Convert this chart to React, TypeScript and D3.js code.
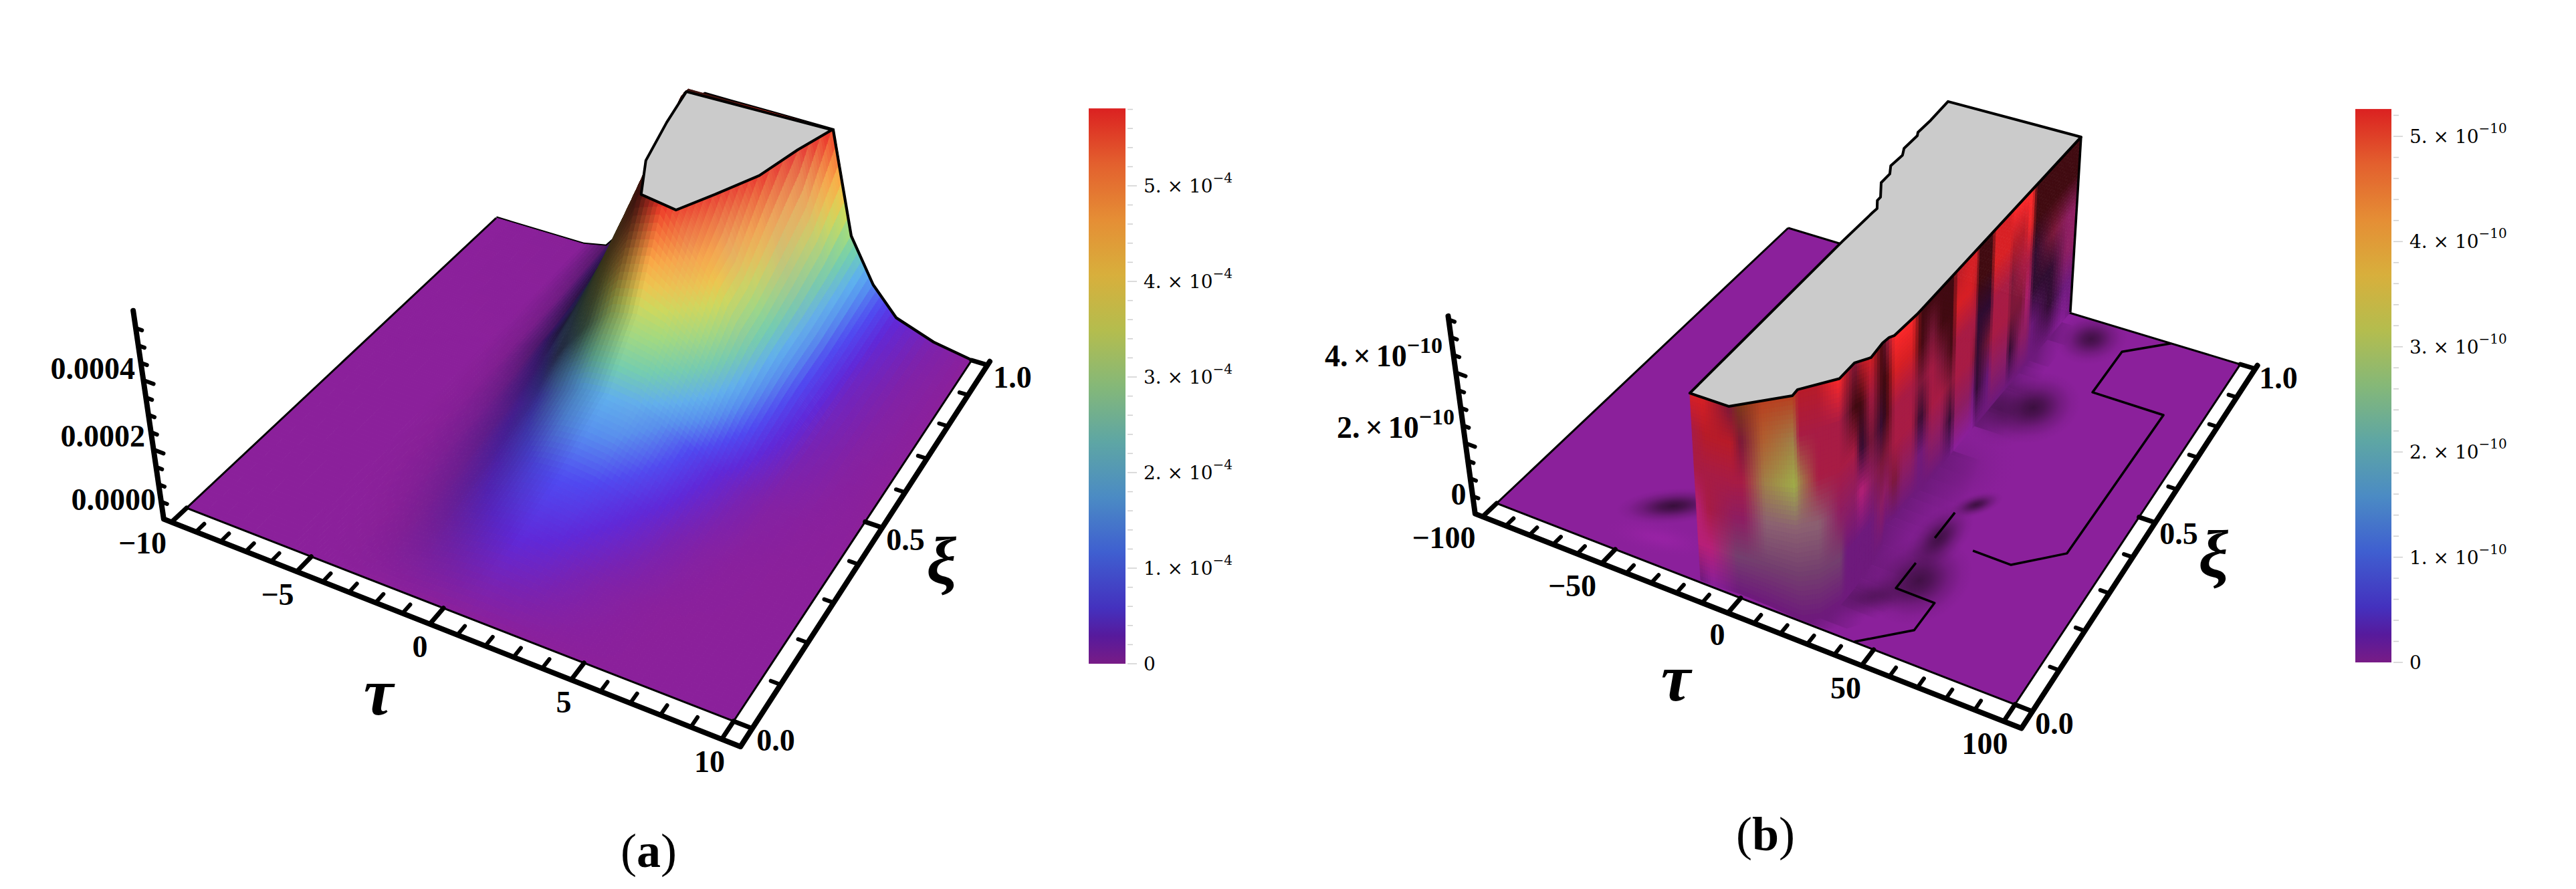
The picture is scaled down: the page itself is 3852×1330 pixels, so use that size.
import React, { useEffect, useRef } from 'react';
import * as d3 from 'd3';

type Pt = [number, number];

// ---- panel (a) values, z in units of 1e-4 ----
const tauNodesA = [-10, -6, -5, -4, -3, -2, -1, 0, 1, 2, 3, 4, 5, 6, 7, 8.5, 10];
const xiNodesA = [0, 0.15, 0.3, 0.45, 0.55, 0.64, 0.7, 0.8, 0.9, 1];
const zGridA = [
  [0, 0, 0, 0, 0, 0, 0, 0, 0, 0, 0, 0, 0, 0, 0, 0, 0],
  [0, 0, 0, 0, 0.06, 0.2, 0.38, 0.52, 0.58, 0.48, 0.3, 0.15, 0.06, 0.01, 0, 0, 0],
  [0, 0, 0, 0.05, 0.18, 0.46, 0.8, 1.02, 1.08, 1, 0.78, 0.52, 0.26, 0.1, 0.03, 0, 0],
  [0, 0, 0.01, 0.1, 0.35, 0.85, 1.4, 1.75, 1.85, 1.75, 1.45, 1.05, 0.62, 0.3, 0.1, 0.03, 0],
  [0, 0, 0.01, 0.15, 0.6, 1.4, 2.4, 3.1, 3.3, 3.1, 2.6, 2, 1.25, 0.6, 0.22, 0.06, 0],
  [0, 0, 0.02, 0.25, 1, 2.3, 4, 5.7, 6, 4.9, 4, 2.7, 1.6, 0.8, 0.3, 0.08, 0],
  [0, 0, 0.03, 0.3, 1.2, 2.8, 4.6, 6.6, 6.8, 5.9, 4.3, 2.9, 1.8, 0.9, 0.35, 0.1, 0],
  [0, 0, 0.05, 0.45, 1.7, 3.5, 5.6, 7.2, 7.8, 7.4, 5.8, 3.5, 2, 1, 0.4, 0.12, 0],
  [0, 0, 0.1, 0.7, 2.4, 4.3, 6.5, 8.2, 9.2, 9.2, 7.2, 4.2, 2.3, 1.2, 0.5, 0.15, 0],
  [0, 0, 0.15, 1, 3, 5.2, 8, 10, 11, 11, 9, 5.9, 2.7, 1.4, 0.6, 0.2, 0],
];
// greyish facets on the lit slope, same nodes as zGridA
const washGridA = [
  [0, 0, 0, 0, 0, 0, 0, 0, 0, 0, 0, 0, 0, 0, 0, 0, 0],
  [0, 0, 0, 0, 0, 0, 0, 0, 0, 0, 0, 0, 0, 0, 0, 0, 0],
  [0, 0, 0, 0, 0, 0, 0, 0, 0, 0, 0, 0, 0, 0, 0, 0, 0],
  [0, 0, 0, 0, 0, 0, 0, 0, 0.05, 0.08, 0.05, 0, 0, 0, 0, 0, 0],
  [0, 0, 0, 0, 0, 0, 0, 0, 0.08, 0.04, 0.1, 0.08, 0, 0, 0, 0, 0],
  [0, 0, 0, 0, 0, 0, 0, 0, 0.05, 0.2, 0.05, 0.15, 0.05, 0, 0, 0, 0],
  [0, 0, 0, 0, 0, 0, 0, 0, 0, 0.12, 0.28, 0.08, 0.05, 0, 0, 0, 0],
  [0, 0, 0, 0, 0, 0, 0, 0, 0, 0.05, 0.12, 0.38, 0.12, 0, 0, 0, 0],
  [0, 0, 0, 0, 0, 0, 0, 0, 0, 0, 0.1, 0.3, 0.1, 0, 0, 0, 0],
  [0, 0, 0, 0, 0, 0, 0, 0, 0, 0, 0, 0.05, 0, 0, 0, 0, 0],
];
const capTauA = [-1.65, -1.3, -0.78, 0.06, 1.5, 2.21, 3.01, 3.47, 3.97];
const capXiA = [0.99, 0.878, 0.748, 0.65, 0.637, 0.711, 0.801, 0.909, 0.999];

// ---- panel (b) values, z in units of 1e-10 ----
const capTauB = [-25.9, 29, 26.7, 25.6, 24.6, 24.1, 24.5, 21.2, 20.9, 12.1, 12.2, -2.5, -16.6, -15.4, -14.8, -14.6, -17, -17, -21.3, -21.3, -23.6, -23.2, -24.9, -24.7, -25.6, -25.4];
const capXiB = [0.995, 1.003, 0.366, 0.297, 0.288, 0.27, 0.227, 0.202, 0.155, 0.099, 0.082, 0.011, 0.009, 0.489, 0.592, 0.607, 0.63, 0.642, 0.684, 0.717, 0.742, 0.784, 0.806, 0.857, 0.868, 0.918];

const wallTopTau = [-16.6, -12.2, -2.5, -0.3, 4.9, 12.2, 12.1, 16.1, 20.9, 20.9, 21.2, 22.6, 24.5, 24.1, 24.6, 25.6, 25.6, 25.9, 26.7, 26.9, 27, 27.1, 27.2, 27.4, 27.5, 27.5, 27.7, 27.7, 27.9, 28, 28.1, 28.2, 28.3, 28.6, 28.8, 29];
const wallTopXi = [0.009, 0.01, 0.011, 0.023, 0.046, 0.082, 0.099, 0.125, 0.154, 0.176, 0.202, 0.212, 0.227, 0.27, 0.276, 0.297, 0.325, 0.357, 0.381, 0.42, 0.455, 0.496, 0.508, 0.565, 0.582, 0.59, 0.641, 0.652, 0.715, 0.724, 0.773, 0.8, 0.818, 0.897, 0.964, 1.003];
const wallBaseTau = [-16.3, -11.5, -1.7, 1.7, 10, 21.8, 23.5, 27.8, 30.5, 30.7, 30.7, 30.3, 30.1, 28.5, 24.6, 25.6, 25.6, 25.9, 26.7, 26.9, 27, 27.1, 27.2, 27.4, 27.5, 27.5, 27.7, 27.7, 27.9, 28, 28.1, 28.2, 28.3, 28.6, 28.8, 29];
const wallBaseXi = [0.005, 0.005, 0.008, 0.008, 0.007, 0.003, 0.004, 0.021, 0.064, 0.083, 0.11, 0.136, 0.173, 0.226, 0.276, 0.297, 0.325, 0.357, 0.381, 0.42, 0.455, 0.496, 0.508, 0.565, 0.582, 0.59, 0.641, 0.652, 0.715, 0.724, 0.773, 0.8, 0.818, 0.897, 0.964, 1.003];
// how far along tau the foot of the wall fades out on the floor
const wallSkirt = [0, 0, 0, 0, 2, 6, 8, 10, 14, 14, 16, 16, 16, 18, 20, 20, 20, 18, 18, 16, 14, 12, 12, 12, 12, 12, 10, 10, 10, 10, 10, 8, 8, 8, 6, 0];
// tone letters from the top of the wall down to its foot
const wallTones = [
  'RCCMMQ', 'RHCCMP', 'WHCVLQ', 'OWCVLQ', 'ANGTLQ', 'AGYTLQ', 'HCGTLQ', 'HCCTLQ', 'BCCVLQ', 'HWCVQQ', 'WDCVQQ', 'HDKMQQ', 'RCWVQQ', 'DDKWVQ',
  'WDDWVQ', 'BRCCWQ', 'BRCCVQ', 'BRCCVQ', 'DDWKQQ', 'DWCCVQ', 'DDWCVQ', 'DDDWKQ', 'HRCCVP', 'RRCCVP', 'RHCWQP', 'DDKKKQ', 'DDKWQQ', 'RRCCVQ', 'RRCCVQ', 'BHWWKQ', 'BHCWVQ', 'BBCMVQ', 'DDKKQQ', 'DDWKKQ', 'DDVVQP', 'DDVVQQ',
];
const toneKeys = ['R', 'B', 'H', 'C', 'M', 'V', 'P', 'Q', 'K', 'D', 'W', 'O', 'A', 'N', 'G', 'Y', 'T', 'L'];

// contour pieces lying on the floor of panel (b)
const floorLinesTau = [[42.8, 57.3, 57.3, 42.8, 42.9], [42.8, 42.9], [57.1, 71.5, 85.7, 86, 57.5, 57.2, 71.8]];
const floorLinesXi = [[0.001, 0.07, 0.142, 0.143, 0.213], [0.284, 0.359], [0.286, 0.285, 0.356, 0.785, 0.786, 0.93, 1]];

// dark hollows on the floor: centre and the two reach points
const spotTau = [-45, -40.2, 47.8, 38, 44.2, 47.5, 41.9, 43.4, 31.9, 31.5, 25.9];
const spotXi = [0.141, 0.059, 0.178, 0.106, 0.287, 0.395, 0.691, 0.94, 0.46, 0.656, 0.034];
const spotTauA = [-28.9, -21.4, 59.7, 51.6, 46.3, 54.2, 53.8, 53.5, 42.2, 33, 40.9];
const spotXiA = [0.199, 0.081, 0.256, 0.166, 0.382, 0.434, 0.769, 0.997, 0.585, 0.756, 0.109];
const spotTauB = [-39.4, -35.6, 59.4, 43.3, 53, 50.2, 53.5, 52.3, 50.6, 47.5, 32.7];
const spotXiB = [0.104, 0.024, 0.098, 0.066, 0.263, 0.368, 0.611, 0.875, 0.378, 0.611, -0.014];
const spotDepth = [0.9, 0.5, 0.8, 0.5, 0.8, 0.85, 0.85, 0.8, 0.55, 0.45, 0.7];
const spotKind = ['K', 'L', 'K', 'K', 'K', 'K', 'K', 'K', 'Q', 'K', 'Q'];

// ---- colour bar values ----
const barStops = [0, 0.05, 0.1, 0.2, 0.3, 0.4, 0.5, 0.6, 0.7, 0.8, 0.9, 1];
const barColors = ['#781c86', '#571a9c', '#4431be', '#3f5fd0', '#4b8bc4', '#5ea6a4', '#85b878', '#b4bd4e', '#d8af3c', '#e58e35', '#e3602e', '#db2121'];
const surfStops = [0, 0.04, 0.1, 0.17, 0.25, 0.31, 0.4, 0.5, 0.6, 0.68, 0.78, 0.9, 1];
const surfColors = ['#8b209b', '#7a22b0', '#6028d8', '#5048f0', '#5590f0', '#5cb0f0', '#70d0b0', '#a0dc80', '#d0dc58', '#f0c84a', '#ffa840', '#f86a30', '#f03020'];

const barTicksA = [0, 1, 2, 3, 4, 5];
const barTicksB = [0, 1, 2, 3, 4, 5];

const tauMajorA = [-10, -5, 0, 5, 10];
const tauMajorB = [-100, -50, 0, 50, 100];
const xiMajor = [0, 0.5, 1];
const zMajorA = [0, 2, 4];
const zMajorB = [0, 2, 4];

const FLOOR = '#8b209b';
const toneColor = d3.scaleOrdinal<string, string>().domain(toneKeys).range([
  '#d82024', '#ff2a2a', '#b81c28', '#a81c44', '#b82078', '#8e1e62', FLOOR, '#6e1a7c', '#2e0c30', '#400a10', '#7a1838', '#7a3a18', '#b84020', '#b06030', '#a08048', '#a0b048', '#8c6272', '#74406e',
]);

const UPAD_L = 0.016, UPAD = 0.03, VPAD = 0.04, VTOP = 0.012;

function makeFloor(c: Pt[]) {
  const [p0, p1, p2, p3] = c;
  const dx1 = p1[0] - p2[0], dx2 = p3[0] - p2[0], sx = p0[0] - p1[0] + p2[0] - p3[0];
  const dy1 = p1[1] - p2[1], dy2 = p3[1] - p2[1], sy = p0[1] - p1[1] + p2[1] - p3[1];
  const den = dx1 * dy2 - dx2 * dy1;
  const g = (sx * dy2 - dx2 * sy) / den, h = (dx1 * sy - sx * dy1) / den;
  const a = p1[0] - p0[0] + g * p1[0], b = p3[0] - p0[0] + h * p3[0];
  const d = p1[1] - p0[1] + g * p1[1], e = p3[1] - p0[1] + h * p3[1];
  return (u: number, v: number): Pt => {
    const w = g * u + h * v + 1;
    return [(a * u + b * v + p0[0]) / w, (d * u + e * v + p0[1]) / w];
  };
}

// floor homography plus a lift along the slightly converging verticals
function makeProjection(corners: Pt[], perZ: number, shrink: number, xc: number, lean: number) {
  const floor = makeFloor(corners);
  return (u: number, v: number, z: number): Pt => {
    const [x, y] = floor(u, v);
    const h = z * perZ * (1 - shrink * v);
    return [x + (x - xc) * lean * h, y - h];
  };
}

const poly = d3.line<Pt>();

function drawAxes(g: any, proj: any, tau: any, xi: any, zTop: number, tauMajor: number[], tauMinor: number[], zMajor: number[], zMinor: number[]) {
  const path = (pts: Pt[], w: number) =>
    g.append('path').attr('d', poly(pts)).attr('stroke', '#000').attr('fill', 'none').attr('stroke-width', w)
      .attr('stroke-linecap', 'round').attr('stroke-linejoin', 'round');
  path([proj(-UPAD_L, -VPAD, zTop), proj(-UPAD_L, -VPAD, 0), proj(1 + UPAD, -VPAD, 0), proj(1 + UPAD, 1 + VTOP, 0)], 8);
  tauMinor.forEach(t => path([proj(tau(t), -VPAD, 0), proj(tau(t), -VPAD + 0.022, 0)], 6));
  tauMajor.forEach(t => path([proj(tau(t), -VPAD, 0), proj(tau(t), -VPAD + 0.04, 0)], 7));
  d3.range(0, 11).forEach(i => {
    const x = i / 10;
    const major = xiMajor.includes(x);
    path([proj(1 + UPAD, xi(x), 0), proj(1 + UPAD - (major ? 0.03 : 0.016), xi(x), 0)], major ? 7 : 6);
  });
  zMinor.forEach(z => path([proj(-UPAD_L, -VPAD, z), proj(-UPAD_L + 0.012, -VPAD, z)], 6));
  zMajor.forEach(z => path([proj(-UPAD_L, -VPAD, z), proj(-UPAD_L + 0.02, -VPAD, z)], 6));
}

function label(g: any, txt: string, x: number, y: number, anchor = 'middle', size = 46) {
  return g.append('text').attr('x', x).attr('y', y).attr('text-anchor', anchor)
    .attr('font-family', 'Liberation Serif').attr('font-weight', 700).attr('font-size', size).text(txt);
}

function drawTitle(g: any, txt: string, x: number, y: number, size: number) {
  g.append('text').attr('x', x).attr('y', y).attr('text-anchor', 'middle').attr('font-family', 'Liberation Serif')
    .attr('font-weight', 700).attr('font-style', 'italic').attr('font-size', size).text(txt);
}

function drawCaption(g: any, letter: string, x: number, y: number) {
  const t = g.append('text').attr('x', x).attr('y', y).attr('text-anchor', 'middle')
    .attr('font-family', 'Liberation Serif').attr('font-size', 72);
  t.append('tspan').text('(');
  t.append('tspan').attr('font-weight', 700).text(letter);
  t.append('tspan').text(')');
}

function drawBar(g: any, id: string, x0: number, x1: number, y: any, zMax: number, ticks: number[], minorStep: number, exp: string, tx: number) {
  const grad = g.append('linearGradient').attr('id', id).attr('x1', 0).attr('x2', 0).attr('y1', 1).attr('y2', 0);
  barStops.forEach((s, i) => grad.append('stop').attr('offset', s).attr('stop-color', barColors[i]));
  g.append('rect').attr('x', x0).attr('y', y(zMax)).attr('width', x1 - x0).attr('height', y(0) - y(zMax)).attr('fill', `url(#${id})`);
  d3.range(0, zMax, minorStep).forEach(z => {
    const major = Math.abs(z - Math.round(z)) < 1e-6;
    g.append('line').attr('x1', x1 + 3).attr('x2', x1 + (major ? 17 : 11)).attr('y1', y(z)).attr('y2', y(z))
      .attr('stroke', '#cfcfcf').attr('stroke-width', 1.5);
  });
  ticks.forEach(v => {
    const t = g.append('text').attr('x', tx).attr('y', y(v) + 10).attr('font-family', 'DejaVu Serif').attr('font-size', 28);
    if (v === 0) { t.text('0'); return; }
    t.append('tspan').text(`${v}. × 10`);
    t.append('tspan').attr('font-size', 20).attr('dy', -15).text(exp);
  });
}

function drawPanelA(root: any) {
  const g = root.append('g');
  const tau = d3.scaleLinear().domain([-10, 10]).range([0, 1]);
  const xi = d3.scaleLinear().domain([0, 1]).range([0, 1]);
  const proj = makeProjection([[279, 760], [1097, 1079], [1453, 539], [742, 326]], 51.8, 0.08, 890, 0.000227);
  const floor = makeFloor([[279, 760], [1097, 1079], [1453, 539], [742, 326]]);
  const CAP = 5.8;
  const color = d3.scaleLinear<string>().domain(surfStops.map(s => s * CAP)).range(surfColors).interpolate(d3.interpolateRgb).clamp(true);

  // left flank of the ridge faces away from the light
  const darkGrid = zGridA.map(row => row.map((z, i) => {
    const a = Math.max(i - 1, 0), b = Math.min(i + 1, row.length - 1);
    const s = (row[b] - row[a]) / (tauNodesA[b] - tauNodesA[a]);
    return s > 0 ? Math.min(0.8, s * 0.85) : 0;
  }));

  const NT = 6, NX = 14;
  const fineTau: number[] = [], fineIdx: [number, number][] = [];
  tauNodesA.slice(0, -1).forEach((t, i) => d3.range(NT).forEach(k => {
    fineTau.push(t + (tauNodesA[i + 1] - t) * k / NT);
    fineIdx.push([i, k / NT]);
  }));
  fineTau.push(10); fineIdx.push([tauNodesA.length - 2, 1]);
  const fineXi: number[] = [], fineJ: [number, number][] = [];
  xiNodesA.slice(0, -1).forEach((x, j) => d3.range(NX).forEach(k => {
    fineXi.push(x + (xiNodesA[j + 1] - x) * k / NX);
    fineJ.push([j, k / NX]);
  }));
  fineXi.push(1); fineJ.push([xiNodesA.length - 2, 1]);
  const sample = (m: number[][], a: number, b: number) => {
    const [i, s] = fineIdx[a], [j, t] = fineJ[b];
    const bot = m[j][i] * (1 - s) + m[j][i + 1] * s, top = m[j + 1][i] * (1 - s) + m[j + 1][i + 1] * s;
    return bot * (1 - t) + top * t;
  };
  const cells: { d: string; c: string; k: number }[] = [];
  for (let b = 0; b < fineXi.length - 1; b++) for (let a = 0; a < fineTau.length - 1; a++) {
    const corners: [number, number][] = [[a, b], [a + 1, b], [a + 1, b + 1], [a, b + 1]];
    const pts = corners.map(([p, q]) => proj(tau(fineTau[p]), xi(fineXi[q]), Math.min(sample(zGridA, p, q), CAP)));
    const zMid = d3.mean(corners, ([p, q]) => sample(zGridA, p, q)) as number;
    const dk = d3.mean(corners, ([p, q]) => sample(darkGrid, p, q)) as number;
    const ws = d3.mean(corners, ([p, q]) => sample(washGridA, p, q)) as number;
    const lit = d3.interpolateRgb(color(Math.min(zMid, CAP)), '#b89ca8')(ws);
    const c = d3.interpolateRgb(lit, '#120a0a')(dk);
    const k = floor(tau((fineTau[a] + fineTau[a + 1]) / 2), xi((fineXi[b] + fineXi[b + 1]) / 2))[1];
    cells.push({ d: (poly(pts) as string) + 'Z', c, k });
  }
  const profile = (from: number) => tauNodesA.filter(t => t >= from).map((t, i, arr) =>
    proj(tau(t), 1, Math.min(zGridA[9][tauNodesA.length - arr.length + i], CAP)));
  g.append('path').attr('d', poly(profile(-10))).attr('fill', 'none').attr('stroke', '#000').attr('stroke-width', 5);
  cells.sort((p, q) => p.k - q.k);
  g.selectAll('path.s').data(cells).enter().append('path').attr('class', 's')
    .attr('d', (d: any) => d.d).attr('fill', (d: any) => d.c).attr('stroke', (d: any) => d.c).attr('stroke-width', 1);
  g.append('path').attr('d', poly(profile(4))).attr('fill', 'none').attr('stroke', '#000').attr('stroke-width', 3.5);
  g.append('path').attr('d', poly([proj(0, 1, 0), proj(0, 0, 0), proj(1, 0, 0), proj(1, 1, 0)]))
    .attr('fill', 'none').attr('stroke', '#000').attr('stroke-width', 3);
  g.append('path').attr('d', (poly(capTauA.map((t, i) => proj(tau(t), xi(capXiA[i]), CAP))) as string) + 'Z')
    .attr('fill', '#cbcbcb').attr('stroke', '#000').attr('stroke-width', 4).attr('stroke-linejoin', 'round');

  drawAxes(g, proj, tau, xi, 6, tauMajorA, d3.range(-9, 10).filter(t => t % 5 !== 0),
    zMajorA, d3.range(0.5, 5.6, 0.5).filter(z => !zMajorA.includes(z)));

  const tauLabels: [string, number, number][] = [['−10', 213, 828], ['−5', 415, 905], ['0', 628, 983], ['5', 843, 1066], ['10', 1061, 1155]];
  tauLabels.forEach(([s, x, y]) => label(g, s, x, y));
  const xiLabels: [string, number, number][] = [['0.0', 1160, 1123], ['0.5', 1354, 823], ['1.0', 1514, 580]];
  xiLabels.forEach(([s, x, y]) => label(g, s, x, y));
  const zLabels: [string, number, number][] = [['0.0000', 233, 763], ['0.0002', 217, 668], ['0.0004', 202, 567]];
  zLabels.forEach(([s, x, y]) => label(g, s, x, y, 'end'));
  drawTitle(g, 'τ', 566, 1069, 100);
  drawTitle(g, 'ξ', 1408, 872, 100);
  drawCaption(g, 'a', 970, 1297);
  const barY = d3.scaleLinear().domain([0, 5]).range([993, 278]);
  drawBar(g, 'barA', 1628, 1683, barY, 5.81, barTicksA, 0.2, '−4', 1710);
}

function drawPanelB(root: any) {
  const g = root.append('g');
  const tau = d3.scaleLinear().domain([-100, 100]).range([0, 1]);
  const xi = d3.scaleLinear().domain([0, 1]).range([0, 1]);
  const proj = makeProjection([[2238, 753], [3013, 1054], [3350, 545], [2674, 341]], 52.7, 0.055, 2820, 0.000222);
  const CAP = 5.26;
  const P = (t: number, x: number, z = 0) => proj(tau(t), xi(x), z);

  const defs = g.append('defs');
  ['K', 'Q', 'L'].forEach(k => {
    const c = k === 'L' ? '#a424ae' : toneColor(k);
    const rg = defs.append('radialGradient').attr('id', `spot${k}`);
    [[0, 1], [0.22, 0.8], [0.55, 0.32], [0.8, 0.08], [1, 0]].forEach(([o, a]) =>
      rg.append('stop').attr('offset', o).attr('stop-color', c).attr('stop-opacity', a));
  });
  defs.append('clipPath').attr('id', 'floorB').append('path').attr('d', (poly([P(-100, 0), P(100, 0), P(100, 1), P(-100, 1)]) as string) + 'Z');

  g.append('path').attr('d', (poly([P(-100, 0), P(100, 0), P(100, 1), P(-100, 1)]) as string) + 'Z').attr('fill', FLOOR);
  const spots = g.append('g').attr('clip-path', 'url(#floorB)');

  const levels = wallTones[0].length;
  const rgbAt = (col: number, f: number) => {
    const s = wallTones[col];
    const q = f * (levels - 1), i = Math.min(Math.floor(q), levels - 2), t = q - i;
    const a = d3.rgb(toneColor(s[i])), b = d3.rgb(toneColor(s[i + 1]));
    return { r: a.r * (1 - t) + b.r * t, g: a.g * (1 - t) + b.g * t, b: a.b * (1 - t) + b.b * t };
  };
  const colPoint = (col: number, f: number) => {
    const t = wallTopTau[col] + (wallBaseTau[col] - wallTopTau[col]) * f;
    const x = wallTopXi[col] + (wallBaseXi[col] - wallTopXi[col]) * f;
    return P(t, x, CAP * (1 - f));
  };

  // foot of the wall fading out on the floor
  const skirt = spots.append('g');
  for (let c = 0; c < wallTopTau.length - 1; c++) {
    if (wallSkirt[c] + wallSkirt[c + 1] === 0) continue;
    const a0 = colPoint(c, 1), b0 = colPoint(c + 1, 1);
    const a1 = P(wallBaseTau[c] + wallSkirt[c], wallBaseXi[c]), b1 = P(wallBaseTau[c + 1] + wallSkirt[c + 1], wallBaseXi[c + 1]);
    const col = rgbAt(c, 1);
    const id = `sk${c}`;
    const rgb = `rgb(${col.r | 0},${col.g | 0},${col.b | 0})`;
    const lg = defs.append('linearGradient').attr('id', id).attr('gradientUnits', 'userSpaceOnUse')
      .attr('x1', (a0[0] + b0[0]) / 2).attr('y1', (a0[1] + b0[1]) / 2).attr('x2', (a1[0] + b1[0]) / 2).attr('y2', (a1[1] + b1[1]) / 2);
    [[0, 1], [0.4, 0.5], [1, 0]].forEach(([o, a]) => lg.append('stop').attr('offset', o).attr('stop-color', rgb).attr('stop-opacity', a));
    skirt.append('path').attr('d', (poly([a0, b0, b1, a1]) as string) + 'Z').attr('fill', `url(#${id})`);
  }
  spotTau.forEach((t, i) => {
    const c = P(t, spotXi[i]), a = P(spotTauA[i], spotXiA[i]), b = P(spotTauB[i], spotXiB[i]);
    spots.append('circle').attr('r', 1).attr('fill', `url(#spot${spotKind[i]})`).attr('opacity', spotDepth[i])
      .attr('transform', `matrix(${a[0] - c[0]},${a[1] - c[1]},${b[0] - c[0]},${b[1] - c[1]},${c[0]},${c[1]})`);
  });

  floorLinesTau.forEach((ts, i) => {
    g.append('path').attr('d', poly(ts.map((t, j) => P(t, floorLinesXi[i][j])))).attr('fill', 'none')
      .attr('stroke', '#000').attr('stroke-width', 3.5).attr('stroke-linejoin', 'round');
  });
  g.append('path').attr('d', poly([P(-100, 1), P(-100, 0), P(100, 0), P(100, 1), P(-100, 1)]))
    .attr('fill', 'none').attr('stroke', '#000').attr('stroke-width', 3);

  // curtain of the wall, far columns first
  const VN = 48;
  for (let c = wallTopTau.length - 2; c >= 0; c--) {
    const width = Math.abs(colPoint(c + 1, 0)[0] - colPoint(c, 0)[0]);
    const HN = Math.max(1, Math.round(width / 4));
    for (let h = HN - 1; h >= 0; h--) for (let v = 0; v < VN; v++) {
      const s0 = h / HN, s1 = (h + 1) / HN, f0 = v / VN, f1 = (v + 1) / VN;
      const mix = (s: number, f: number): Pt => {
        const a = colPoint(c, f), b = colPoint(c + 1, f);
        return [a[0] + (b[0] - a[0]) * s, a[1] + (b[1] - a[1]) * s];
      };
      const l = rgbAt(c, (f0 + f1) / 2), r = rgbAt(c + 1, (f0 + f1) / 2), s = (s0 + s1) / 2;
      const col = `rgb(${l.r + (r.r - l.r) * s | 0},${l.g + (r.g - l.g) * s | 0},${l.b + (r.b - l.b) * s | 0})`;
      g.append('path').attr('d', (poly([mix(s0, f0), mix(s1, f0), mix(s1, f1), mix(s0, f1)]) as string) + 'Z')
        .attr('fill', col).attr('stroke', col).attr('stroke-width', 0.8);
    }
  }
  // outer corner of the wall
  g.append('path').attr('d', poly([colPoint(wallTopTau.length - 1, 0), colPoint(wallTopTau.length - 1, 1)]))
    .attr('stroke', '#000').attr('stroke-width', 3.5).attr('fill', 'none');
  g.append('path').attr('d', (poly(capTauB.map((t, i) => P(t, capXiB[i], CAP))) as string) + 'Z')
    .attr('fill', '#cbcbcb').attr('stroke', '#000').attr('stroke-width', 4).attr('stroke-linejoin', 'round');

  drawAxes(g, proj, tau, xi, 5.6, tauMajorB, d3.range(-90, 100, 10).filter(t => t % 50 !== 0),
    zMajorB, d3.range(0.5, 5.6, 0.5).filter(z => !zMajorB.includes(z)));

  const tauLabels: [string, number, number][] = [['−100', 2159, 820], ['−50', 2351, 892], ['0', 2568, 965], ['50', 2760, 1045], ['100', 2968, 1128]];
  tauLabels.forEach(([s, x, y]) => label(g, s, x, y));
  const xiLabels: [string, number, number][] = [['0.0', 3072, 1098], ['0.5', 3258, 814], ['1.0', 3407, 581]];
  xiLabels.forEach(([s, x, y]) => label(g, s, x, y));
  label(g, '0', 2181, 755);
  const zLabels: [string, number, number][] = [['4', 2157, 548], ['2', 2175, 655]];
  zLabels.forEach(([s, x, y]) => {
    const t = label(g, '', x, y, 'end');
    t.append('tspan').text(`${s}.`);
    t.append('tspan').attr('dx', 8).text('×');
    t.append('tspan').attr('dx', 8).text('10');
    t.append('tspan').attr('font-size', 34).attr('dy', -20).text('−10');
  });
  drawTitle(g, 'τ', 2506, 1048, 100);
  drawTitle(g, 'ξ', 3310, 862, 100);
  drawCaption(g, 'b', 2640, 1272);
  const barY = d3.scaleLinear().domain([0, 5]).range([991, 204]);
  drawBar(g, 'barB', 3522, 3576, barY, 5.26, barTicksB, 0.2, '−10', 3603);
}

const App: React.FC = () => {
  const svgRef = useRef<SVGSVGElement>(null);
  useEffect(() => {
    if (!svgRef.current) return;
    const root = d3.select(svgRef.current);
    root.selectAll('*').remove();
    drawPanelA(root);
    drawPanelB(root);
  }, []);
  return <svg ref={svgRef} width={3852} height={1330} style={{ position: 'absolute', left: 0, top: 0, background: '#fff' }} />;
};

export default App;
